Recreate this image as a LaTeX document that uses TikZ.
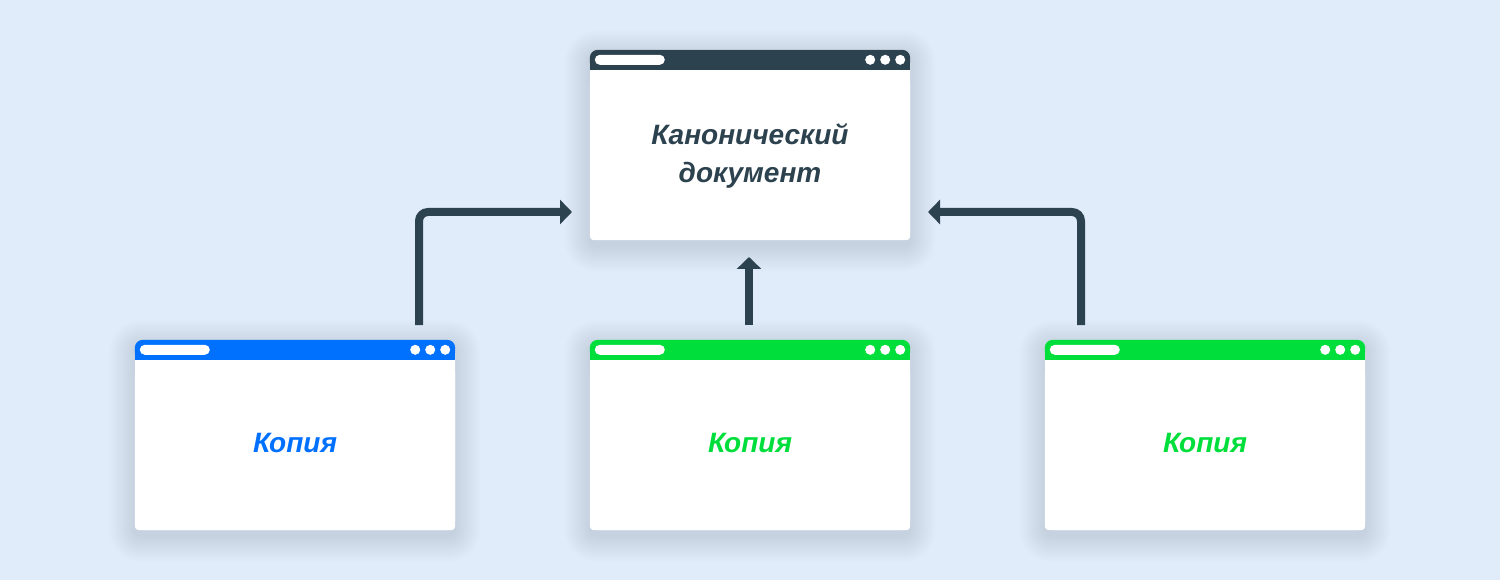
\documentclass[tikz,border=0pt]{standalone}
\usepackage{fontspec}
\setmainfont{Liberation Sans}
\usetikzlibrary{calc,arrows.meta}
\definecolor{bg}{HTML}{E0ECF9}
\definecolor{dark}{HTML}{2D424F}
\definecolor{shade}{HTML}{3A5A80}
\definecolor{cblue}{HTML}{0070FF}
\definecolor{cgreen}{HTML}{00DE3B}
\tikzset{
  winbody/.style={rectangle, minimum width=320pt, minimum height=190pt, inner sep=0pt,
    fill=white, rounded corners=8pt},
  lbl/.style={font=\fontsize{28}{38}\selectfont\bfseries\itshape, align=center, inner sep=0pt},
  conn/.style={draw=dark, line width=8pt, rounded corners=9pt,
    -{Triangle[width=24pt,length=12pt]}},
  softshadow/.style={fill=shade, opacity=0.005},
}
\newcommand\mywin[4]{%
  \coordinate (#1-nw) at (#2,#3);
  \coordinate (#1-se) at (#2+320,#3+190);
  \foreach \i in {1,...,26}
    \fill[softshadow, rounded corners=\i pt+6pt] ($(#1-nw)+(-\i,-\i+6)$) rectangle ($(#1-se)+(\i,\i+6)$);
  \node[winbody] (#1) at (#2+160,#3+95) {};
  \fill[white, rounded corners=4pt] ($(#1.north west)+(0,30)$) rectangle (#1.south east);
  \fill[#4, rounded corners=8pt] (#1.north west) rectangle ($(#1.north east)+(0,20)$);
  \fill[#4] ($(#1.north west)+(0,10)$) rectangle ($(#1.north east)+(0,20)$);
  \fill[white, rounded corners=5pt] ($(#1.north west)+(5,5)$) rectangle ($(#1.north west)+(75,15)$);
  \foreach \dx in {10,25,40} \fill[white] ($(#1.north east)+(-\dx,10)$) circle (5);
}
\begin{document}
\begin{tikzpicture}[x=1pt,y=-1pt]
\fill[bg] (0,0) rectangle (1500,580);
\useasboundingbox (0,0) rectangle (1500,580);

\mywin{k}{590}{50}{dark}
\mywin{c1}{135}{340}{cblue}
\mywin{c2}{590}{340}{cgreen}
\mywin{c3}{1045}{340}{cgreen}

\node[lbl, text=dark] (tk) at (750,156) {Канонический\\документ};
\node[lbl, text=cblue, anchor=base] (t1) at (295,452) {Копия};
\node[lbl, text=cgreen, anchor=base] (t2) at (750,452) {Копия};
\node[lbl, text=cgreen, anchor=base] (t3) at (1205,452) {Копия};

\coordinate (l1) at (419,325);
\coordinate (l2) at (572,212);
\coordinate (m1) at (749,325);
\coordinate (m2) at (749,257);
\coordinate (r1) at (1081,325);
\coordinate (r2) at (928,212);
\draw[conn] (l1) |- (l2);
\draw[conn] (m1) -- (m2);
\draw[conn] (r1) |- (r2);
\end{tikzpicture}
\end{document}
